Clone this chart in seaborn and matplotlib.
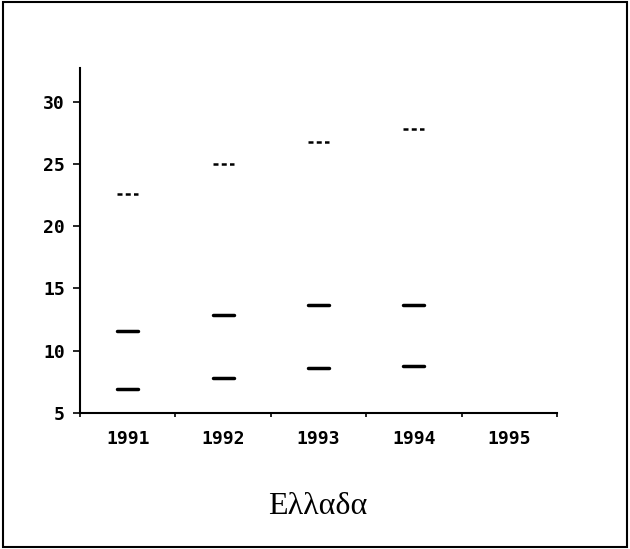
import matplotlib
matplotlib.use("Agg")
import matplotlib.pyplot as plt
import seaborn as sns
import pandas as pd

years = ["1991", "1992", "1993", "1994", "1995"]
upper = [22.6, 25.0, 26.8, 27.8]
middle = [11.6, 12.9, 13.7, 13.7]
lower = [6.9, 7.8, 8.6, 8.8]
title = "Ελλαδα"

sns.set_style("ticks", {"axes.edgecolor": "black", "text.color": "black",
                        "xtick.color": "black", "ytick.color": "black"})
plt.rcParams["font.family"] = ["DejaVu Sans Mono", "DejaVu Sans"]

# every value becomes a short horizontal segment centred on its year
rows = []
half = 0.11
for name, vals in [("upper", upper), ("middle", middle), ("lower", lower)]:
    for i, v in enumerate(vals):
        seg = f"{name}-{i}"
        rows.append({"x": i - half, "y": v, "series": name, "seg": seg})
        rows.append({"x": i + half, "y": v, "series": name, "seg": seg})
df = pd.DataFrame(rows)

fig = plt.figure(figsize=(6.3, 5.49), dpi=100)
ax = fig.add_axes([0.127, 0.248, 0.757, 0.628])

sns.lineplot(
    data=df[df["series"] == "upper"], x="x", y="y", units="seg",
    estimator=None, color="black", linewidth=1.8, ax=ax, legend=False,
)
sns.lineplot(
    data=df[df["series"] != "upper"], x="x", y="y", units="seg",
    estimator=None, color="black", linewidth=2.5, ax=ax, legend=False,
)
for line in ax.lines[:len(upper)]:
    line.set_dashes([2, 1.3])

ax.set_xlim(-0.5, 4.5)
ax.set_ylim(5, 32.7)
ax.set_yticks([5, 10, 15, 20, 25, 30])
ax.set_xticks([-0.5, 0.5, 1.5, 2.5, 3.5, 4.5])
ax.set_xticklabels([])
ax.set_xticks(range(len(years)), minor=True)
ax.set_xticklabels(years, minor=True)
ax.tick_params(axis="x", which="minor", length=0, pad=12, labelsize=13)
ax.tick_params(axis="x", which="major", length=3, width=1.2)
ax.tick_params(axis="y", length=5, width=1.2, labelsize=13, pad=6)
for lab in ax.get_xticklabels(minor=True) + ax.get_yticklabels():
    lab.set_fontweight("bold")
    lab.set_color("black")
ax.set_xlabel("")
ax.set_ylabel("")
sns.despine(ax=ax)
for sp in ["left", "bottom"]:
    ax.spines[sp].set_linewidth(1.5)

fig.text(0.505, 0.077, title, ha="center", va="center", fontsize=23,
         color="black", family=["Liberation Serif", "DejaVu Serif"])

fig.patches.append(plt.Rectangle((0.004, 0.004), 0.992, 0.992,
                                 transform=fig.transFigure, fill=False,
                                 edgecolor="black", linewidth=1.5))

plt.savefig("out.png", dpi=100)
